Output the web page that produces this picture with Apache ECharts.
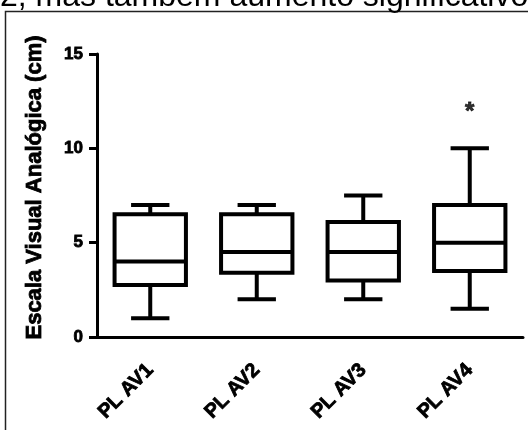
<!DOCTYPE html>
<html>
<head>
<meta charset="utf-8">
<script src="https://cdn.jsdelivr.net/npm/echarts@6/dist/echarts.min.js"></script>
<style>
  html, body { margin: 0; padding: 0; background: #fff; }
  #main { width: 528px; height: 430px; }
</style>
</head>
<body>
<div id="main"></div>
<script>
// valores (cm)
var categorias = ['PL AV1', 'PL AV2', 'PL AV3', 'PL AV4'];
var minimos  = [1.0, 2.0, 2.0, 1.5];
var q1       = [2.75, 3.4, 3.0, 3.5];
var medianas = [4.0, 4.5, 4.5, 5.0];
var q3       = [6.5, 6.5, 6.1, 7.0];
var maximos  = [7.0, 7.0, 7.5, 10.0];
var yTicks   = [0, 5, 10, 15];
// asterisco de significância sobre PL AV4
var signif   = [[3, 11.9]];

var fonte = 'Liberation Sans, Arial, sans-serif';

var dadosBox = categorias.map(function (c, i) {
  return [i, minimos[i], q1[i], medianas[i], q3[i], maximos[i]];
});

var myChart = echarts.init(document.getElementById('main'));

function desenhaBox(params, api) {
  var x = api.value(0);
  var banda = api.size([1, 0])[0];
  var meiaCaixa = banda * 0.335;
  var meioCap = banda * 0.18;
  var pMin = api.coord([x, api.value(1)]);
  var pQ1 = api.coord([x, api.value(2)]);
  var pMed = api.coord([x, api.value(3)]);
  var pQ3 = api.coord([x, api.value(4)]);
  var pMax = api.coord([x, api.value(5)]);
  var cx = pMed[0];
  var st = { stroke: '#000', lineWidth: 4, fill: null };
  return {
    type: 'group',
    children: [
      { type: 'rect', shape: { x: cx - meiaCaixa, y: pQ3[1], width: meiaCaixa * 2, height: pQ1[1] - pQ3[1] }, style: st },
      { type: 'line', shape: { x1: cx - meiaCaixa, y1: pMed[1], x2: cx + meiaCaixa, y2: pMed[1] }, style: st },
      { type: 'line', shape: { x1: cx, y1: pQ3[1], x2: cx, y2: pMax[1] }, style: st },
      { type: 'line', shape: { x1: cx, y1: pQ1[1], x2: cx, y2: pMin[1] }, style: st },
      { type: 'line', shape: { x1: cx - meioCap, y1: pMax[1], x2: cx + meioCap, y2: pMax[1] }, style: st },
      { type: 'line', shape: { x1: cx - meioCap, y1: pMin[1], x2: cx + meioCap, y2: pMin[1] }, style: st }
    ]
  };
}

// contorno fino para engrossar o texto negrito, como no original
var grosso = { textBorderColor: '#000', textBorderWidth: 0.8 };

var option = {
  animation: false,
  backgroundColor: '#fff',
  graphic: [
    { type: 'rect', shape: { x: 5.5, y: 11.5, width: 600, height: 600 }, style: { fill: null, stroke: '#222', lineWidth: 1.5 } },
    { type: 'text', left: 0, top: -19, style: { text: '2, mas também aumento significativo', font: '32px ' + fonte, fill: '#000' } }
  ],
  grid: { left: 97, top: 54, right: 5, height: 283, containLabel: false },
  xAxis: {
    type: 'category',
    data: categorias,
    axisLine: { lineStyle: { color: '#000', width: 3 } },
    axisTick: { alignWithLabel: true, length: 8, lineStyle: { color: '#000', width: 3 } },
    axisLabel: Object.assign({ rotate: 45, margin: 30, color: '#000', fontWeight: 'bold', fontSize: 20, fontFamily: fonte }, grosso)
  },
  yAxis: {
    type: 'value',
    min: yTicks[0],
    max: yTicks[yTicks.length - 1],
    interval: 5,
    name: 'Escala Visual Analógica (cm)',
    nameLocation: 'middle',
    nameGap: 51,
    nameTextStyle: Object.assign({ color: '#000', fontWeight: 'bold', fontSize: 22, fontFamily: fonte, padding: [0, 0, 0, 16] }, grosso),
    axisLine: { show: true, lineStyle: { color: '#000', width: 3 } },
    axisTick: { show: true, length: 8, lineStyle: { color: '#000', width: 3 } },
    axisLabel: Object.assign({ margin: 14, color: '#000', fontWeight: 'bold', fontSize: 17, fontFamily: fonte }, grosso),
    splitLine: { show: false }
  },
  series: [
    {
      type: 'custom',
      renderItem: desenhaBox,
      encode: { x: 0, y: [1, 2, 3, 4, 5] },
      data: dadosBox,
      silent: true
    },
    {
      type: 'scatter',
      symbolSize: 0,
      data: signif,
      silent: true,
      label: Object.assign({ show: true, position: 'inside', formatter: '*', color: '#000', fontWeight: 'bold', fontSize: 24, fontFamily: fonte }, grosso)
    }
  ]
};

myChart.setOption(option);
</script>
</body>
</html>
